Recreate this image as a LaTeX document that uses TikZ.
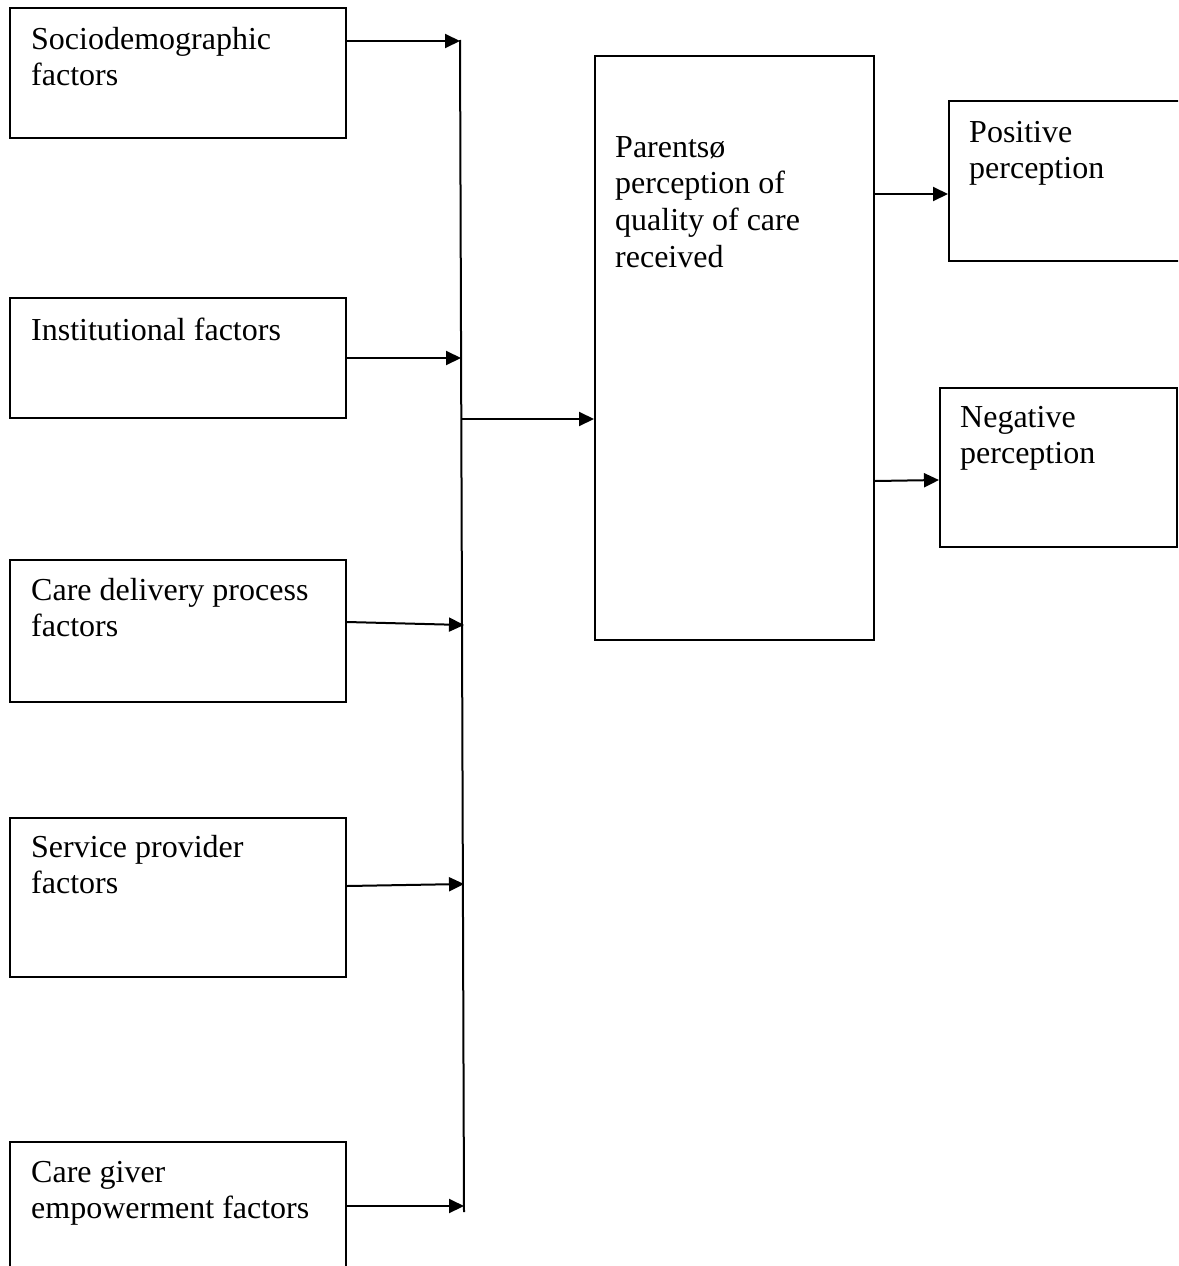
\documentclass[tikz,border=0pt]{standalone}
\usepackage{fontspec}
\setmainfont{Liberation Serif}
\usetikzlibrary{arrows.meta}
\tikzset{
  box/.style={draw, line width=2pt, rectangle, inner sep=0pt},
  txt/.style={anchor=base west, align=left, inner sep=0pt, font=\fontsize{32}{36.8}\selectfont},
  arr/.style={line width=2pt, -{Triangle[length=15pt,width=14pt]}},
  bus/.style={line width=2pt}
}
\begin{document}
\begin{tikzpicture}[x=1pt,y=-1pt]
\useasboundingbox (0,0) rectangle (1178,1266);
\begin{scope}
\clip (0,0) rectangle (1178,1266);
% left boxes
\node[box, minimum width=336pt, minimum height=130pt] (socio) at (178,73) {};
\node[box, minimum width=336pt, minimum height=120pt] (inst) at (178,358) {};
\node[box, minimum width=336pt, minimum height=142pt] (deliv) at (178,631) {};
\node[box, minimum width=336pt, minimum height=159pt] (serv) at (178,897.5) {};
\node[box, minimum width=336pt, minimum height=160pt] (giver) at (178,1222) {};
% central
\node[box, minimum width=279pt, minimum height=584pt] (central) at (734.5,348) {};
% right boxes
\node[box, minimum width=251pt, minimum height=160pt] (pos) at (1074.5,181) {};
\node[box, minimum width=237pt, minimum height=159pt] (neg) at (1058.5,467.5) {};
\end{scope}
% texts (base anchor = baseline of last line)
\node[txt] (socioT) at (31,85.8) {Sociodemographic\\factors};
\node[txt] (instT) at (31,340) {Institutional factors};
\node[txt] (delivT) at (31,636.8) {Care delivery process\\factors};
\node[txt] (servT) at (31,893.8) {Service provider\\factors};
\node[txt] (giverT) at (31,1218.8) {Care giver\\empowerment factors};
\node[txt] (centralT) at (615,267.4) {Parentsø\\perception of\\quality of care\\received};
\node[txt] (posT) at (969,178.8) {Positive\\perception};
\node[txt] (negT) at (960,463.8) {Negative\\perception};
% bus
\coordinate (bt) at (460,40);
\coordinate (bb) at (464,1212);
\draw[bus] (bt) -- (bb);
\coordinate (b1) at (460,41);
\coordinate (b2) at (461,358);
\coordinate (b3) at (464,625);
\coordinate (b4) at (464,884);
\coordinate (b5) at (464,1206);
\coordinate (bc) at (461,419);
\draw[arr] (socio.east |- b1) -- (b1);
\draw[arr] (inst.east |- b2) -- (b2);
\draw[arr] (deliv.east |- 0,622) -- (b3);
\draw[arr] (serv.east |- 0,886) -- (b4);
\draw[arr] (giver.east |- b5) -- (b5);
\draw[arr] (bc) -- (central.west |- bc);
\coordinate (pp) at (0,194);
\draw[arr] (central.east |- pp) -- (pos.west |- pp);
\draw[arr] (central.east |- 0,481) -- (neg.west |- 0,480);
\end{tikzpicture}
\end{document}
